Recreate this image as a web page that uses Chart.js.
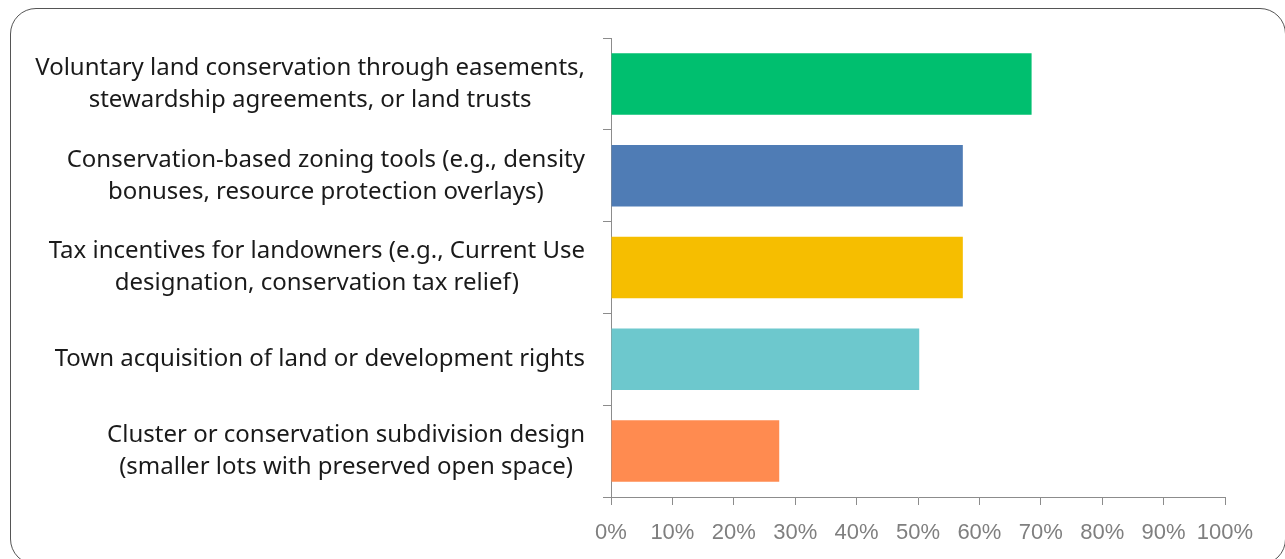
<!DOCTYPE html>
<html>
<head>
<meta charset="utf-8">
<script src="https://cdn.jsdelivr.net/npm/chart.js@4/dist/chart.umd.min.js"></script>
<style>
  html, body { margin: 0; padding: 0; background: #fff; }
  #wrap { position: relative; width: 1285px; height: 559px; overflow: hidden; }
  #box { position: absolute; left: 10px; top: 8px; width: 1276px; height: 557px;
         border: 1.5px solid #555; border-radius: 26px; box-sizing: border-box; }
  canvas { position: absolute; left: 0; top: 0; }
</style>
</head>
<body>
<div id="wrap">
  <div id="box"></div>
  <canvas id="c" width="1285" height="559"></canvas>
</div>
<script>
const categories = [
	['Voluntary land conservation through easements,', 'stewardship agreements, or land trusts'],
	['Conservation-based zoning tools (e.g., density', 'bonuses, resource protection overlays)'],
	['Tax incentives for landowners (e.g., Current Use', 'designation, conservation tax relief)'],
	['Town acquisition of land or development rights'],
	['Cluster or conservation subdivision design', '(smaller lots with preserved open space)']
];
const shares = [68.5, 57.3, 57.3, 50.2, 27.4];
const barColors = ['#00bf6f', '#4f7cb5', '#f6be00', '#6dc8cd', '#ff8b50'];
const xTicks = [0, 10, 20, 30, 40, 50, 60, 70, 80, 90, 100];

const LABEL_FONT = '24px "Noto Sans"';
const LABEL_RIGHT = 585;
const LINE_GAP = 32;

// y labels: each block right-aligned, lines centred inside the block
const blockLabels = {
	id: 'blockLabels',
	afterDraw(chart) {
		const ctx = chart.ctx;
		const y = chart.scales.y;
		ctx.save();
		ctx.font = LABEL_FONT;
		ctx.fillStyle = '#1a1a1a';
		ctx.textAlign = 'center';
		ctx.textBaseline = 'middle';
		categories.forEach((lines, i) => {
			const w = Math.max(...lines.map(l => ctx.measureText(l).width));
			const cx = LABEL_RIGHT - w / 2;
			const cy = y.getPixelForValue(i);
			lines.forEach((l, j) => {
				ctx.fillText(l, cx, cy + (j - (lines.length - 1) / 2) * LINE_GAP);
			});
		});
		ctx.restore();
	}
};

new Chart(document.getElementById('c'), {
	type: 'bar',
	data: {
		labels: categories.map(c => c.join(' ')),
		datasets: [{
			data: shares,
			backgroundColor: barColors,
			borderWidth: 0,
			barPercentage: 0.67,
			categoryPercentage: 1
		}]
	},
	options: {
		indexAxis: 'y',
		responsive: false,
		animation: false,
		events: [],
		layout: { padding: { left: 0, top: 38, right: 60, bottom: 10 } },
		plugins: { legend: { display: false }, tooltip: { enabled: false } },
		scales: {
			x: {
				min: 0,
				max: 100,
				afterBuildTicks: s => { s.ticks = xTicks.map(v => ({ value: v })); },
				afterFit: s => { s.height = 52; },
				border: { color: '#8c8c8c', width: 1 },
				grid: { drawOnChartArea: false, drawTicks: true, tickLength: 8, color: '#8c8c8c' },
				ticks: {
					callback: v => v + '%',
					color: '#7f7f7f',
					padding: 15,
					maxRotation: 0,
					autoSkip: false,
					font: { family: '"Liberation Sans", Arial, sans-serif', size: 22 }
				}
			},
			y: {
				afterFit: s => { s.width = 611; },
				border: { color: '#8c8c8c', width: 1 },
				grid: { drawOnChartArea: false, drawTicks: true, tickLength: 8, color: '#8c8c8c', offset: true },
				ticks: { display: false }
			}
		}
	},
	plugins: [blockLabels]
});
</script>
</body>
</html>
